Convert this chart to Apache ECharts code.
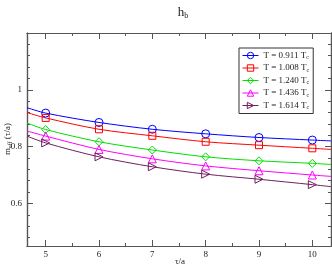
<!DOCTYPE html>
<html><head><meta charset="utf-8">
<script src="https://cdn.jsdelivr.net/npm/echarts@6/dist/echarts.min.js"></script>
<style>html,body{margin:0;padding:0;background:#fff}#c{width:332px;height:265px}</style>
</head><body><div id="c"></div>
<script>
// ---- data ----
const tauValues = [5, 6, 7, 8, 9, 10];
const seriesNames = ['0.911', '1.008', '1.240', '1.436', '1.614'];
const m0911 = [0.918, 0.885, 0.861, 0.845, 0.832, 0.823];
const m1008 = [0.901, 0.861, 0.838, 0.817, 0.805, 0.794];
const m1240 = [0.860, 0.817, 0.788, 0.764, 0.750, 0.741];
const m1436 = [0.837, 0.790, 0.757, 0.732, 0.715, 0.700];
const m1614 = [0.813, 0.764, 0.729, 0.703, 0.685, 0.666];
// fit curves at the plot edges
const fitLeftTau = 4.65, fitRightTau = 10.35;
const fitLeft  = [0.937, 0.920, 0.883, 0.855, 0.837];
const fitRight = [0.820, 0.790, 0.737, 0.695, 0.659];
const xMajorTicks = [5, 6, 7, 8, 9, 10];
const xMinorTicks = [5.5, 6.5, 7.5, 8.5, 9.5];
const yMajorTicks = [0.6, 0.8, 1.0];
const yMinorTicks = [0.48, 0.52, 0.56, 0.64, 0.68, 0.72, 0.76, 0.84, 0.88, 0.92, 0.96, 1.04, 1.08, 1.12, 1.16];

const allValues = [m0911, m1008, m1240, m1436, m1614];
const colors = ['#0000ff', '#ff0000', '#00e000', '#ff00ff', '#702060'];
const symbols = ['circle', 'rect', 'diamond', 'triangle', 'triangle'];
const rotations = [0, 0, 0, 0, -90];

const FONT = 'Liberation Serif';
const frame = '#555';
const xMin = 4.65, xMax = 10.35, yMin = 0.45, yMax = 1.2;

function xAxis(pos, ticks, len, labels) {
  return {
    type: 'value', min: xMin, max: xMax, position: pos, gridIndex: 0,
    axisLine: { show: true, onZero: false, lineStyle: { color: frame, width: 1.2 } },
    splitLine: { show: false },
    axisTick: { show: true, inside: true, length: len, customValues: ticks, lineStyle: { color: frame } },
    axisLabel: labels ? { show: true, customValues: ticks, margin: 4, fontFamily: FONT, fontSize: 9, color: '#222' } : { show: false }
  };
}
function yAxis(pos, ticks, len, labels) {
  return {
    type: 'value', min: yMin, max: yMax, position: pos, gridIndex: 0,
    axisLine: { show: true, onZero: false, lineStyle: { color: frame, width: 1.2 } },
    splitLine: { show: false },
    axisTick: { show: true, inside: true, length: len, customValues: ticks, lineStyle: { color: frame } },
    axisLabel: labels ? { show: true, customValues: ticks, margin: 5, fontFamily: FONT, fontSize: 9, color: '#222',
      formatter: v => (Math.abs(v - 1) < 1e-9 ? '1' : String(Math.round(v * 10) / 10)) } : { show: false }
  };
}

const xs = [xAxis('bottom', xMajorTicks, 6, true), xAxis('bottom', xMinorTicks, 3, false),
            xAxis('top', xMajorTicks, 6, false), xAxis('top', xMinorTicks, 3, false)];
const ys = [yAxis('left', yMajorTicks, 6, true), yAxis('left', yMinorTicks, 3, false),
            yAxis('right', yMajorTicks, 6, false), yAxis('right', yMinorTicks, 3, false)];

const series = allValues.map((vals, i) => {
  const data = [{ value: [fitLeftTau, fitLeft[i]], symbol: 'none' }]
    .concat(tauValues.map((t, j) => [t, vals[j]]))
    .concat([{ value: [fitRightTau, fitRight[i]], symbol: 'none' }]);
  return {
    name: 'T = ' + seriesNames[i] + ' T_c',
    type: 'line', xAxisIndex: 0, yAxisIndex: 0,
    data: data, smooth: 0.3, symbol: symbols[i], symbolRotate: rotations[i],
    symbolSize: symbols[i] === 'rect' ? 7 : 8, showAllSymbol: true,
    lineStyle: { color: colors[i], width: 1 },
    itemStyle: { color: 'rgba(255,255,255,0)', borderColor: colors[i], borderWidth: 1 },
    emphasis: { disabled: true }, animation: false, clip: true
  };
});

const subRich = { a: { fontFamily: FONT, fontSize: 9, fill: '#222' }, s: { fontFamily: FONT, fontSize: 6, fill: '#222', verticalAlign: 'bottom', padding: [4, 0, 0, 0] } };

const chart = echarts.init(document.getElementById('c'), null, { renderer: 'canvas' });
chart.setOption({
  animation: false,
  backgroundColor: '#fff',
  title: {
    text: '{a|h}{b|b}', left: 178, top: 1, textAlign: 'center',
    textStyle: { fontWeight: 'normal', rich: { a: { fontFamily: FONT, fontSize: 13, fontWeight: 'normal', color: '#222' }, b: { fontFamily: FONT, fontSize: 8, fontWeight: 'normal', color: '#222', verticalAlign: 'bottom', padding: [6, 0, 0, 0] } } }
  },
  grid: { left: 27, right: 1, top: 33, bottom: 19, containLabel: false, outerBoundsMode: 'none', show: false },
  legend: {
    orient: 'vertical', left: 239, top: 48, padding: [3, 4, 3, 3], itemGap: 3,
    itemWidth: 16, itemHeight: 8, borderColor: '#333', borderWidth: 1, backgroundColor: '#fff',
    itemStyle: { color: 'rgba(255,255,255,0)', borderWidth: 1 },
    lineStyle: { width: 1 },
    formatter: name => { const p = name.split(' T_c'); return '{a|' + p[0] + ' T}{s|c}'; },
    textStyle: { fontFamily: FONT, fontSize: 9, color: '#222',
      rich: { a: { fontFamily: FONT, fontSize: 9, color: '#222' }, s: { fontFamily: FONT, fontSize: 6, color: '#222', verticalAlign: 'bottom', padding: [4, 0, 0, 0] } } }
  },
  graphic: [
    { type: 'text', x: 180, y: 262, style: { text: 'τ/a', font: '9px "Liberation Serif"', fill: '#222', align: 'center', verticalAlign: 'middle' } },
    { type: 'text', x: 8, y: 139, rotation: Math.PI / 2, style: { text: '{a|m}{s|eff}{a| (τ/a)}', rich: subRich, font: '9px "Liberation Serif"', fill: '#222', align: 'center', verticalAlign: 'middle' } }
  ],
  xAxis: xs, yAxis: ys, series: series
});
</script></body></html>
